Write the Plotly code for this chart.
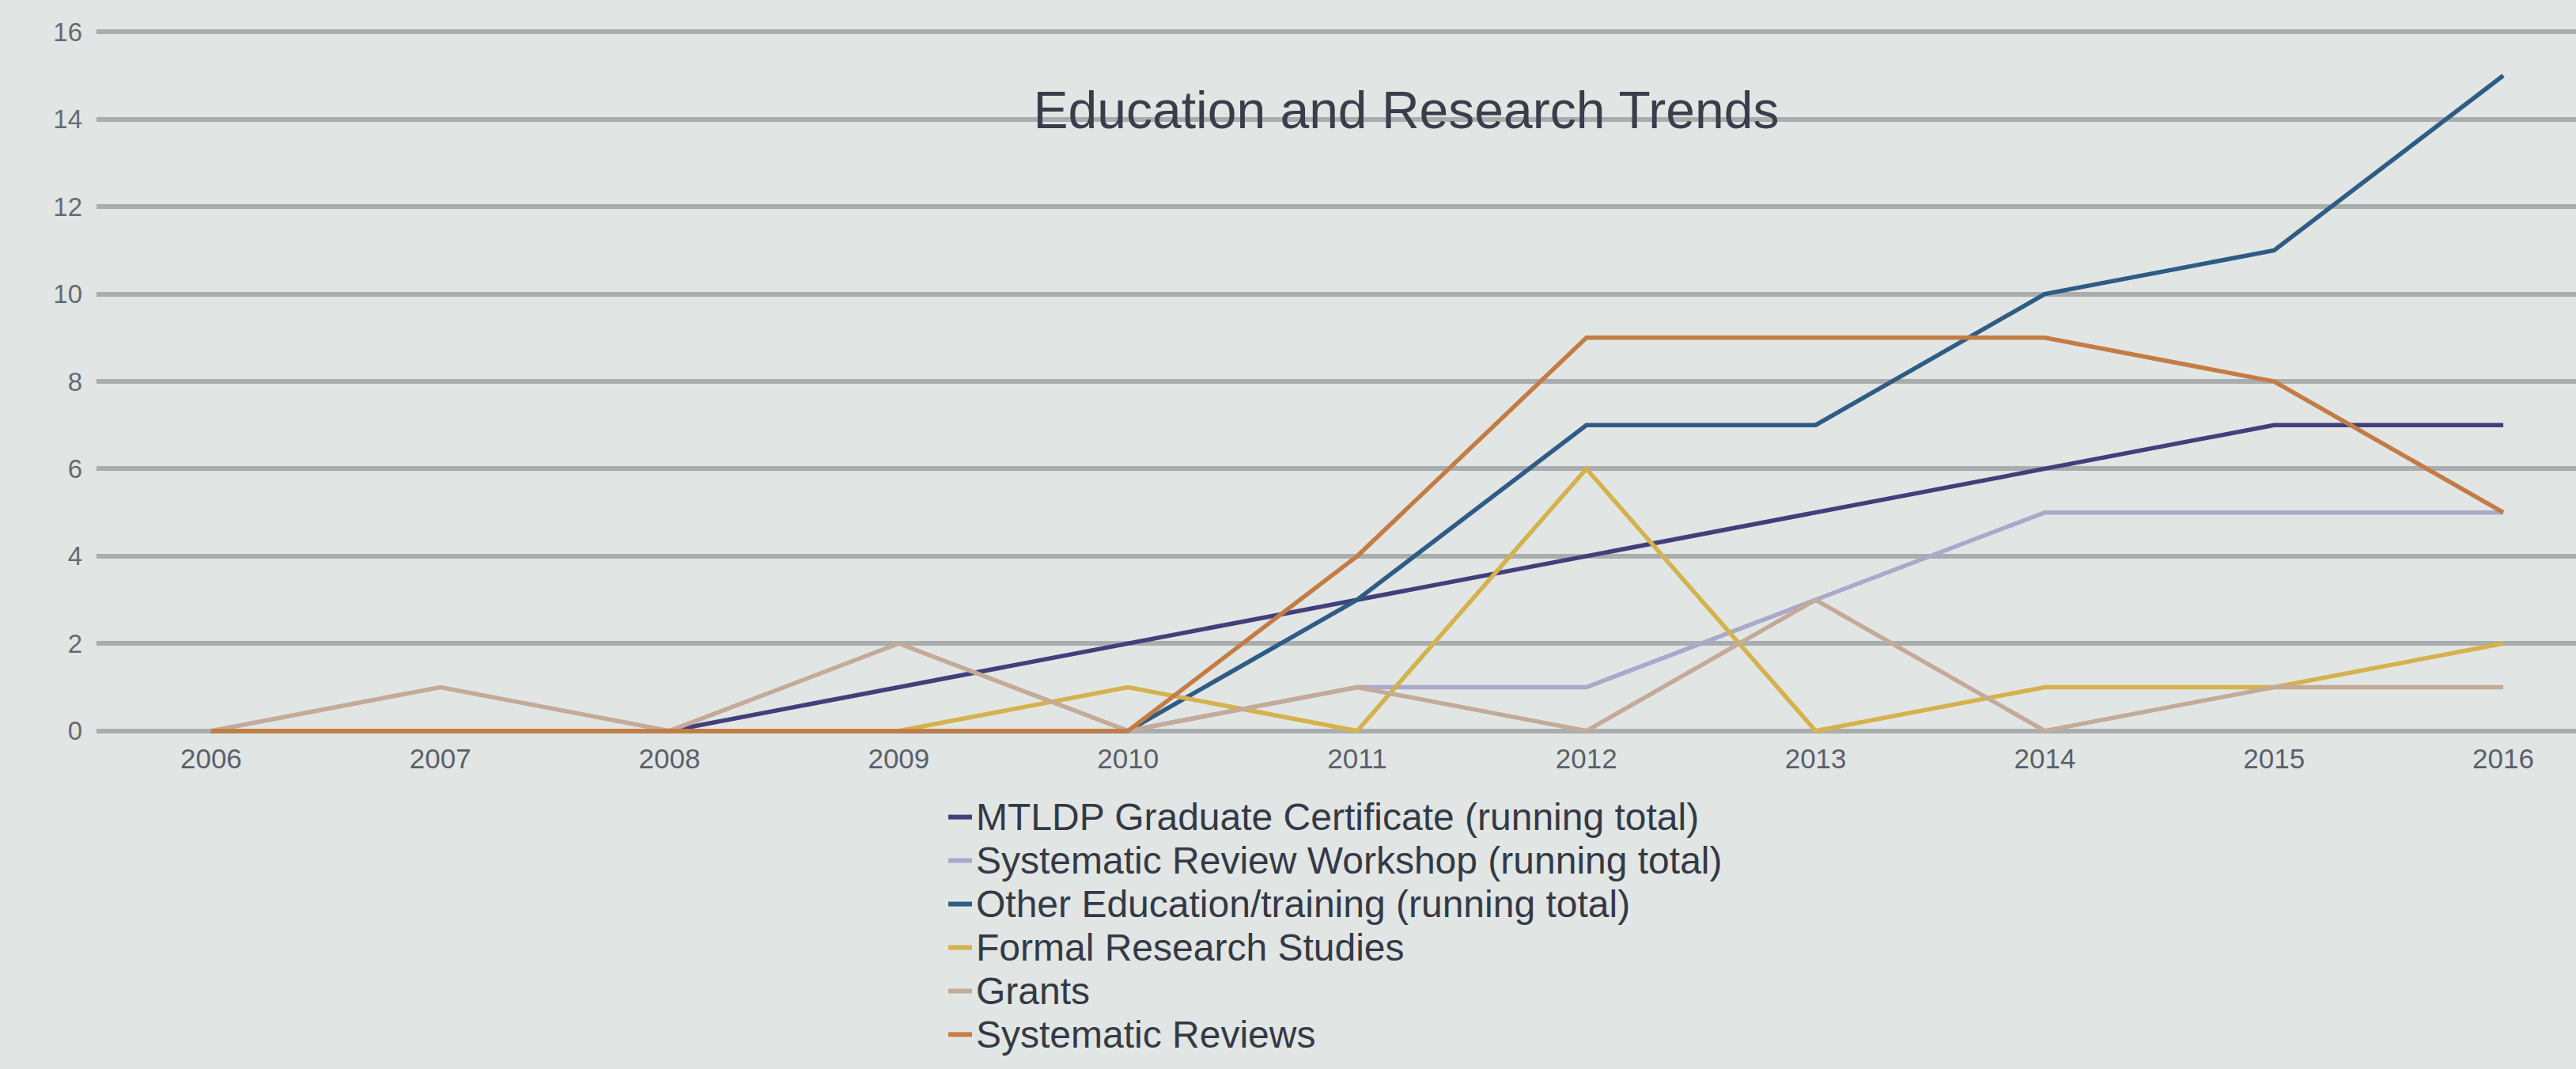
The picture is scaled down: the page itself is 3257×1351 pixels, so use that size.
import plotly.graph_objects as go

years = [2006, 2007, 2008, 2009, 2010, 2011, 2012, 2013, 2014, 2015, 2016]
series_names = [
    "MTLDP Graduate Certificate (running total)",
    "Systematic Review Workshop (running total)",
    "Other Education/training (running total)",
    "Formal Research Studies",
    "Grants",
    "Systematic Reviews",
]
mtldp = [0, 0, 0, 1, 2, 3, 4, 5, 6, 7, 7]
sr_workshop = [0, 0, 0, 0, 0, 1, 1, 3, 5, 5, 5]
other_edu = [0, 0, 0, 0, 0, 3, 7, 7, 10, 11, 15]
formal_research = [0, 0, 0, 0, 1, 0, 6, 0, 1, 1, 2]
grants = [0, 1, 0, 2, 0, 1, 0, 3, 0, 1, 1]
sys_reviews = [0, 0, 0, 0, 0, 4, 9, 9, 9, 8, 5]
y_ticks = [0, 2, 4, 6, 8, 10, 12, 14, 16]
title_text = "Education and Research Trends"

series_values = [mtldp, sr_workshop, other_edu, formal_research, grants, sys_reviews]
colors = ["#433f7a", "#aaa9c9", "#2e5c84", "#d4b24c", "#c4aa98", "#c47c45"]

W, H = 3257, 1351
EXT = 0.06            # small range padding so edge gridlines are drawn
UNIT = 55.25          # pixels per y unit
L, R = 122, 0
T = 40 - EXT * UNIT
B = (H - 924) - EXT * UNIT
PW, PH = W - L - R, H - T - B

def px_x(px):
    return (px - L) / PW

def px_y(py):
    return (H - B - py) / PH

fig = go.Figure()
for name, vals, col in zip(series_names, series_values, colors):
    fig.add_trace(go.Scatter(x=years, y=vals, mode="lines", name=name,
                             line=dict(color=col, width=5.5), showlegend=False))

# custom legend (rows tightly spaced as in the reference)
row0, row_gap = 1033, 55
for i, (name, col) in enumerate(zip(series_names, colors)):
    py = row0 + i * row_gap
    fig.add_shape(type="line", xref="paper", yref="paper",
                  x0=px_x(1199), x1=px_x(1229), y0=px_y(py), y1=px_y(py),
                  line=dict(color=col, width=6))
    fig.add_annotation(xref="paper", yref="paper", x=px_x(1232), y=px_y(py),
                       xanchor="left", yanchor="middle", text=name, showarrow=False,
                       font=dict(family="Liberation Sans, Arial, sans-serif", size=48, color="#353945"))

fig.update_layout(
    width=W, height=H,
    margin=dict(l=L, r=R, t=T, b=B, pad=0),
    paper_bgcolor="#e1e6e5", plot_bgcolor="#e1e6e5",
    title=dict(text=title_text, x=px_x(1778), xref="paper", xanchor="center",
               y=1 - 139 / H, yref="container", yanchor="middle",
               font=dict(family="Liberation Sans, Arial, sans-serif", size=66, color="#3a3d4a")),
    font=dict(family="Liberation Sans, Arial, sans-serif"),
)
fig.update_xaxes(range=[2005.5, 2016 + (W - 3165) / 290], tickmode="array", tickvals=years,
                 ticktext=[str(y) for y in years], showgrid=False, zeroline=False,
                 showline=False, ticks="", ticklabelstandoff=8,
                 tickfont=dict(size=35, color="#5a5f6b"))
fig.update_yaxes(range=[-EXT, 16 + EXT], tickmode="array", tickvals=y_ticks,
                 showgrid=True, gridcolor="#a9adad", gridwidth=6, zeroline=False,
                 showline=False, ticks="", ticklabelstandoff=17,
                 tickfont=dict(size=33, color="#666a70"))

fig.write_html("out.html", config={"displayModeBar": False},
               post_script="document.body.style.margin='0';document.body.style.background='#e1e6e5';")
